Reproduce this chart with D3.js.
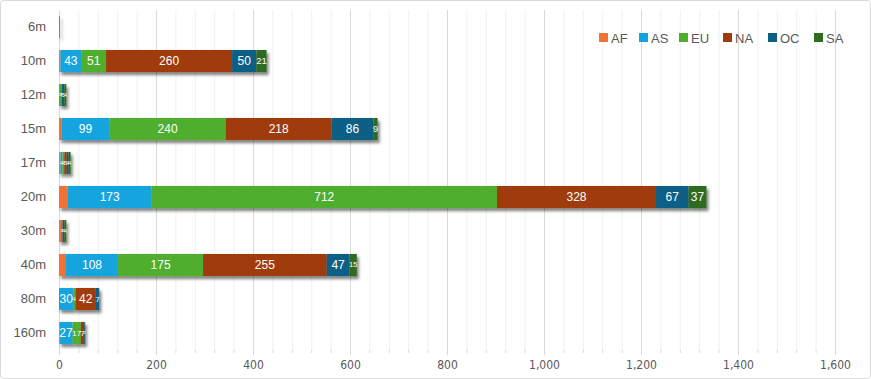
<!DOCTYPE html>
<html><head><meta charset="utf-8">
<script src="https://cdn.jsdelivr.net/npm/d3@7"></script>
<style>body{margin:0;background:#fff;}svg{display:block;}</style>
</head><body>
<svg id="c" width="871" height="379"></svg>
<script>
const categories = ["6m","10m","12m","15m","17m","20m","30m","40m","80m","160m"];
const seriesNames = ["AF","AS","EU","NA","OC","SA"];
const AF = [0, 3, 0, 5, 3, 18, 4, 14, 0, 1];
const AS = [1, 43, 2, 99, 4, 173, 3, 108, 30, 27];
const EU = [0, 51, 3, 240, 4, 712, 0, 175, 4, 17];
const NA = [1, 260, 1, 218, 5, 328, 1, 255, 42, 7];
const OC = [0, 50, 5, 86, 4, 67, 3, 47, 7, 2];
const SA = [0, 21, 4, 9, 4, 37, 4, 15, 0, 0];
const xTicks = [0,200,400,600,800,1000,1200,1400,1600];
const colors = ["#f07234","#13a4df","#4fae2d","#9f3b0f","#0f5f85","#2f6b20"];
const labelled = ["AS","EU","NA","OC","SA"];

const seriesVals = [AF, AS, EU, NA, OC, SA];
const rows = categories.map((c,i)=>{const o={cat:c}; seriesNames.forEach((s,j)=>o[s]=seriesVals[j][i]); return o;});
const stack = d3.stack().keys(seriesNames)(rows);

const svg = d3.select("#c");
const W=871,H=379;
svg.append("rect").attr("x",0.5).attr("y",0.5).attr("width",W-1).attr("height",H-1)
  .attr("rx",3).attr("fill","#fff").attr("stroke","#d9d9d9");

const defs = svg.append("defs");
const f = defs.append("filter").attr("id","sh").attr("x","-10%").attr("y","-20%").attr("width","130%").attr("height","160%");
f.append("feGaussianBlur").attr("in","SourceAlpha").attr("stdDeviation",1.8);
f.append("feOffset").attr("dx",2).attr("dy",2.5).attr("result","ob");
f.append("feComponentTransfer").append("feFuncA").attr("type","linear").attr("slope",0.5);
const fm = f.append("feMerge"); fm.append("feMergeNode"); fm.append("feMergeNode").attr("in","SourceGraphic");

const x = d3.scaleLinear().domain([0,1600]).range([59,835]);
const y = d3.scaleBand().domain(categories).range([10,350]).paddingInner(0.35).paddingOuter(0.175);

// minor grid
const minor = d3.range(0,1601,40).filter(v=>v%200!==0);
svg.append("g").selectAll("line").data(minor).join("line")
  .attr("x1",d=>x(d)+0.5).attr("x2",d=>x(d)+0.5).attr("y1",10).attr("y2",350)
  .attr("stroke","#f0f0f0");
svg.append("g").selectAll("line").data(xTicks.slice(1)).join("line")
  .attr("x1",d=>x(d)+0.5).attr("x2",d=>x(d)+0.5).attr("y1",10).attr("y2",350)
  .attr("stroke","#d9d9d9");

// x axis ticks and labels
const xa = svg.append("g").attr("transform","translate(0,350)")
  .call(d3.axisBottom(x).tickValues(xTicks).tickFormat(d3.format(",")).tickSize(0).tickPadding(10));
xa.select(".domain").remove();
xa.selectAll("text").attr("fill","#595959").style("font-family","'DejaVu Sans Condensed', 'Liberation Sans', sans-serif").style("font-size","12px");
svg.append("g").selectAll("line").data(d3.range(0,1601,40)).join("line")
  .attr("x1",d=>x(d)+0.5).attr("x2",d=>x(d)+0.5).attr("y1",350).attr("y2",d=>d%200===0?355:353)
  .attr("stroke","#d9d9d9");

// y axis
const ya = svg.append("g").attr("transform","translate(59,0)")
  .call(d3.axisLeft(y).tickSize(0).tickPadding(13));
ya.select(".domain").attr("stroke","#d9d9d9");
ya.selectAll("text").attr("fill","#595959").style("font-family","'Liberation Sans', Arial, sans-serif").style("font-size","13px");

// bars
const g = svg.append("g").attr("filter","url(#sh)");
stack.forEach((s,j)=>{
  g.selectAll(null).data(s).join("rect")
    .attr("x",d=>x(d[0])).attr("y",d=>y(d.data.cat))
    .attr("width",d=>Math.max(0,x(d[1])-x(d[0]))).attr("height",y.bandwidth())
    .attr("fill",colors[j]);
});
const lg = svg.append("g");
function fitSize(d){
  const w = x(d[1])-x(d[0]);
  const n = String(d[1]-d[0]).length;
  return Math.max(4, Math.min(12, (w+1)/(0.58*n)));
}
stack.forEach((s,j)=>{
  if(!labelled.includes(seriesNames[j])) return;
  lg.selectAll(null).data(s.filter(d=>d[1]-d[0]>0 && d.data.cat!=="6m")).join("text")
    .attr("x",d=>(x(d[0])+x(d[1]))/2).attr("y",d=>y(d.data.cat)+y.bandwidth()/2)
    .attr("dy","0.35em").attr("text-anchor","middle").attr("fill","#fff")
    .style("font-family","'Liberation Sans', Arial, sans-serif").style("font-size",d=>fitSize(d)+"px")
    .text(d=>d[1]-d[0]);
});

// legend
const leg = svg.append("g");
seriesNames.forEach((s,j)=>{
  const lx = [599,639,679,723,768,814][j];
  leg.append("rect").attr("x",lx).attr("y",33).attr("width",9).attr("height",9).attr("fill",colors[j]);
  leg.append("text").attr("x",lx+12).attr("y",38).attr("dy","0.35em").attr("fill","#595959")
    .style("font-family","'Liberation Sans', Arial, sans-serif").style("font-size","13px").text(s);
});
</script>
</body></html>
